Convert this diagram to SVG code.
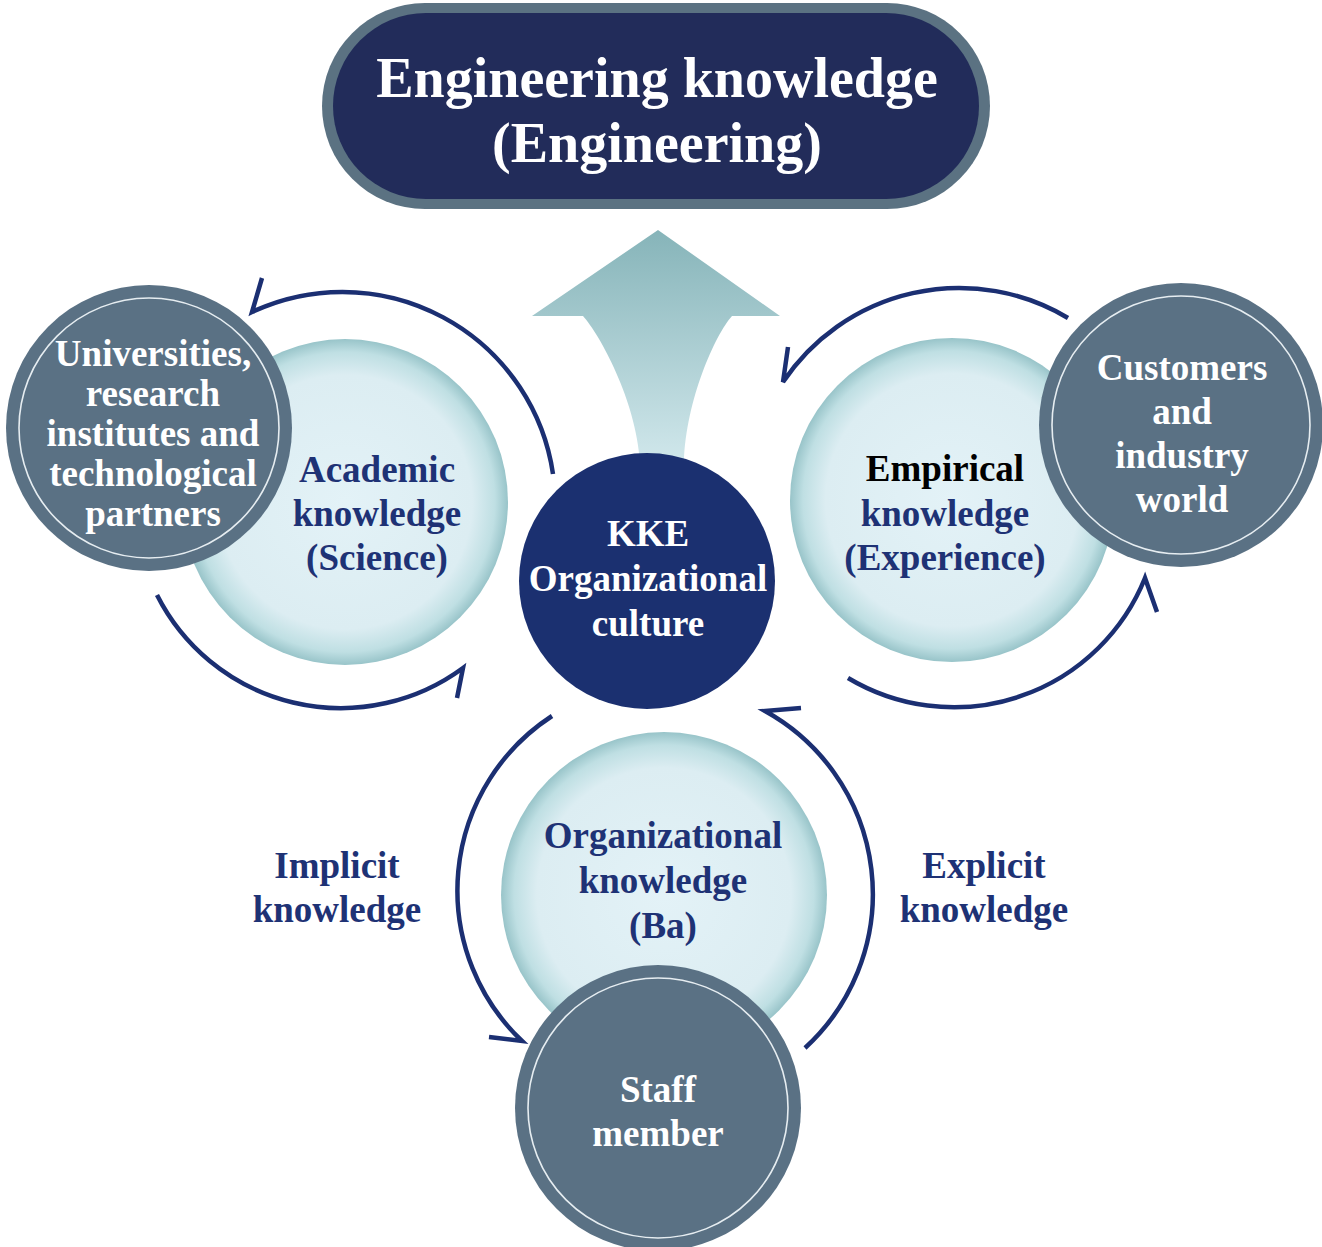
<svg xmlns="http://www.w3.org/2000/svg" width="1322" height="1247" viewBox="0 0 1322 1247">
<defs>
<radialGradient id="lightG" cx="0.5" cy="0.5" r="0.5">
<stop offset="0" stop-color="#e3f2f7"/>
<stop offset="0.78" stop-color="#dcedf2"/>
<stop offset="0.92" stop-color="#bfdfe3"/>
<stop offset="1" stop-color="#98c4c9"/>
</radialGradient>
<linearGradient id="arrowG" x1="0" y1="0" x2="0" y2="1">
<stop offset="0" stop-color="#86b4b9"/>
<stop offset="1" stop-color="#d0e7eb"/>
</linearGradient>
<style>
.light{fill:url(#lightG);}
.dark{fill:#5a7184;}
.ring{fill:none;stroke:#e6edf1;stroke-width:1.6;}
.conn{fill:none;stroke:#1b2f72;stroke-width:4.5;stroke-linejoin:miter;stroke-linecap:butt;}
text{font-family:"Liberation Serif","Times New Roman",serif;font-weight:bold;text-anchor:middle;font-size:37px;}
.w{fill:#ffffff;}
.n{fill:#1e3275;}
.k{fill:#000000;}
</style>
</defs>
<rect width="1322" height="1247" fill="#ffffff"/>

<g id="engineering">
<rect x="322" y="3" width="668" height="206" rx="103" fill="#5b7282"/>
<rect x="333" y="13" width="646" height="186" rx="93" fill="#222c5a"/>
<text x="657" y="97" class="w" style="font-size:56px">Engineering knowledge</text>
<text x="657" y="162" class="w" style="font-size:56px">(Engineering)</text>
</g>

<g id="up-arrow">
<path d="M658 230 L780 316 L732 316 C715 335 686 400 684 462 L640 462 C636 400 600 335 583 316 L532 316 Z" fill="url(#arrowG)"/>
</g>

<g id="academic">
<circle cx="345" cy="502" r="163" class="light"/>
<text x="377" y="482" class="n">Academic</text>
<text x="377" y="526" class="n">knowledge</text>
<text x="377" y="570" class="n">(Science)</text>
</g>

<g id="universities">
<circle cx="149" cy="428" r="143" class="dark"/>
<circle cx="149" cy="428" r="130" class="ring"/>
<text x="153" y="366" class="w">Universities,</text>
<text x="153" y="406" class="w">research</text>
<text x="153" y="446" class="w">institutes and</text>
<text x="153" y="486" class="w">technological</text>
<text x="153" y="526" class="w">partners</text>
</g>

<g id="empirical">
<circle cx="952" cy="500" r="162" class="light"/>
<text x="945" y="481" class="k">Empirical</text>
<text x="945" y="526" class="n">knowledge</text>
<text x="945" y="570" class="n">(Experience)</text>
</g>

<g id="customers">
<circle cx="1181" cy="425" r="142" class="dark"/>
<circle cx="1181" cy="425" r="129" class="ring"/>
<text x="1182" y="380" class="w">Customers</text>
<text x="1182" y="424" class="w">and</text>
<text x="1182" y="468" class="w">industry</text>
<text x="1182" y="512" class="w">world</text>
</g>

<g id="kke">
<circle cx="647" cy="581" r="128" fill="#1b3070"/>
<text x="648" y="546" class="w">KKE</text>
<text x="648" y="591" class="w">Organizational</text>
<text x="648" y="636" class="w">culture</text>
</g>

<g id="organizational">
<circle cx="664" cy="895" r="163" class="light"/>
<text x="663" y="848" class="n">Organizational</text>
<text x="663" y="893" class="n">knowledge</text>
<text x="663" y="938" class="n">(Ba)</text>
</g>

<g id="staff">
<circle cx="658" cy="1108" r="143" class="dark"/>
<circle cx="658" cy="1108" r="130" class="ring"/>
<text x="658" y="1102" class="w">Staff</text>
<text x="658" y="1146" class="w">member</text>
</g>

<g id="implicit">
<text x="337" y="878" class="n">Implicit</text>
<text x="337" y="922" class="n">knowledge</text>
</g>

<g id="explicit">
<text x="984" y="878" class="n">Explicit</text>
<text x="984" y="922" class="n">knowledge</text>
</g>

<g id="connectors">
<path class="conn" d="M553 474 A213 213 0 0 0 252 312 L262 278"/>
<path class="conn" d="M157 595 A206 206 0 0 0 463 668 L457 698"/>
<path class="conn" d="M1068 318 A212 212 0 0 0 783 382 L788 347"/>
<path class="conn" d="M848 678 A206 206 0 0 0 1145 578 L1157 612"/>
<path class="conn" d="M552 716 A208 208 0 0 0 522 1041 L489 1037"/>
<path class="conn" d="M805 1048 A209 209 0 0 0 765 711 L801 708"/>
</g>
</svg>
